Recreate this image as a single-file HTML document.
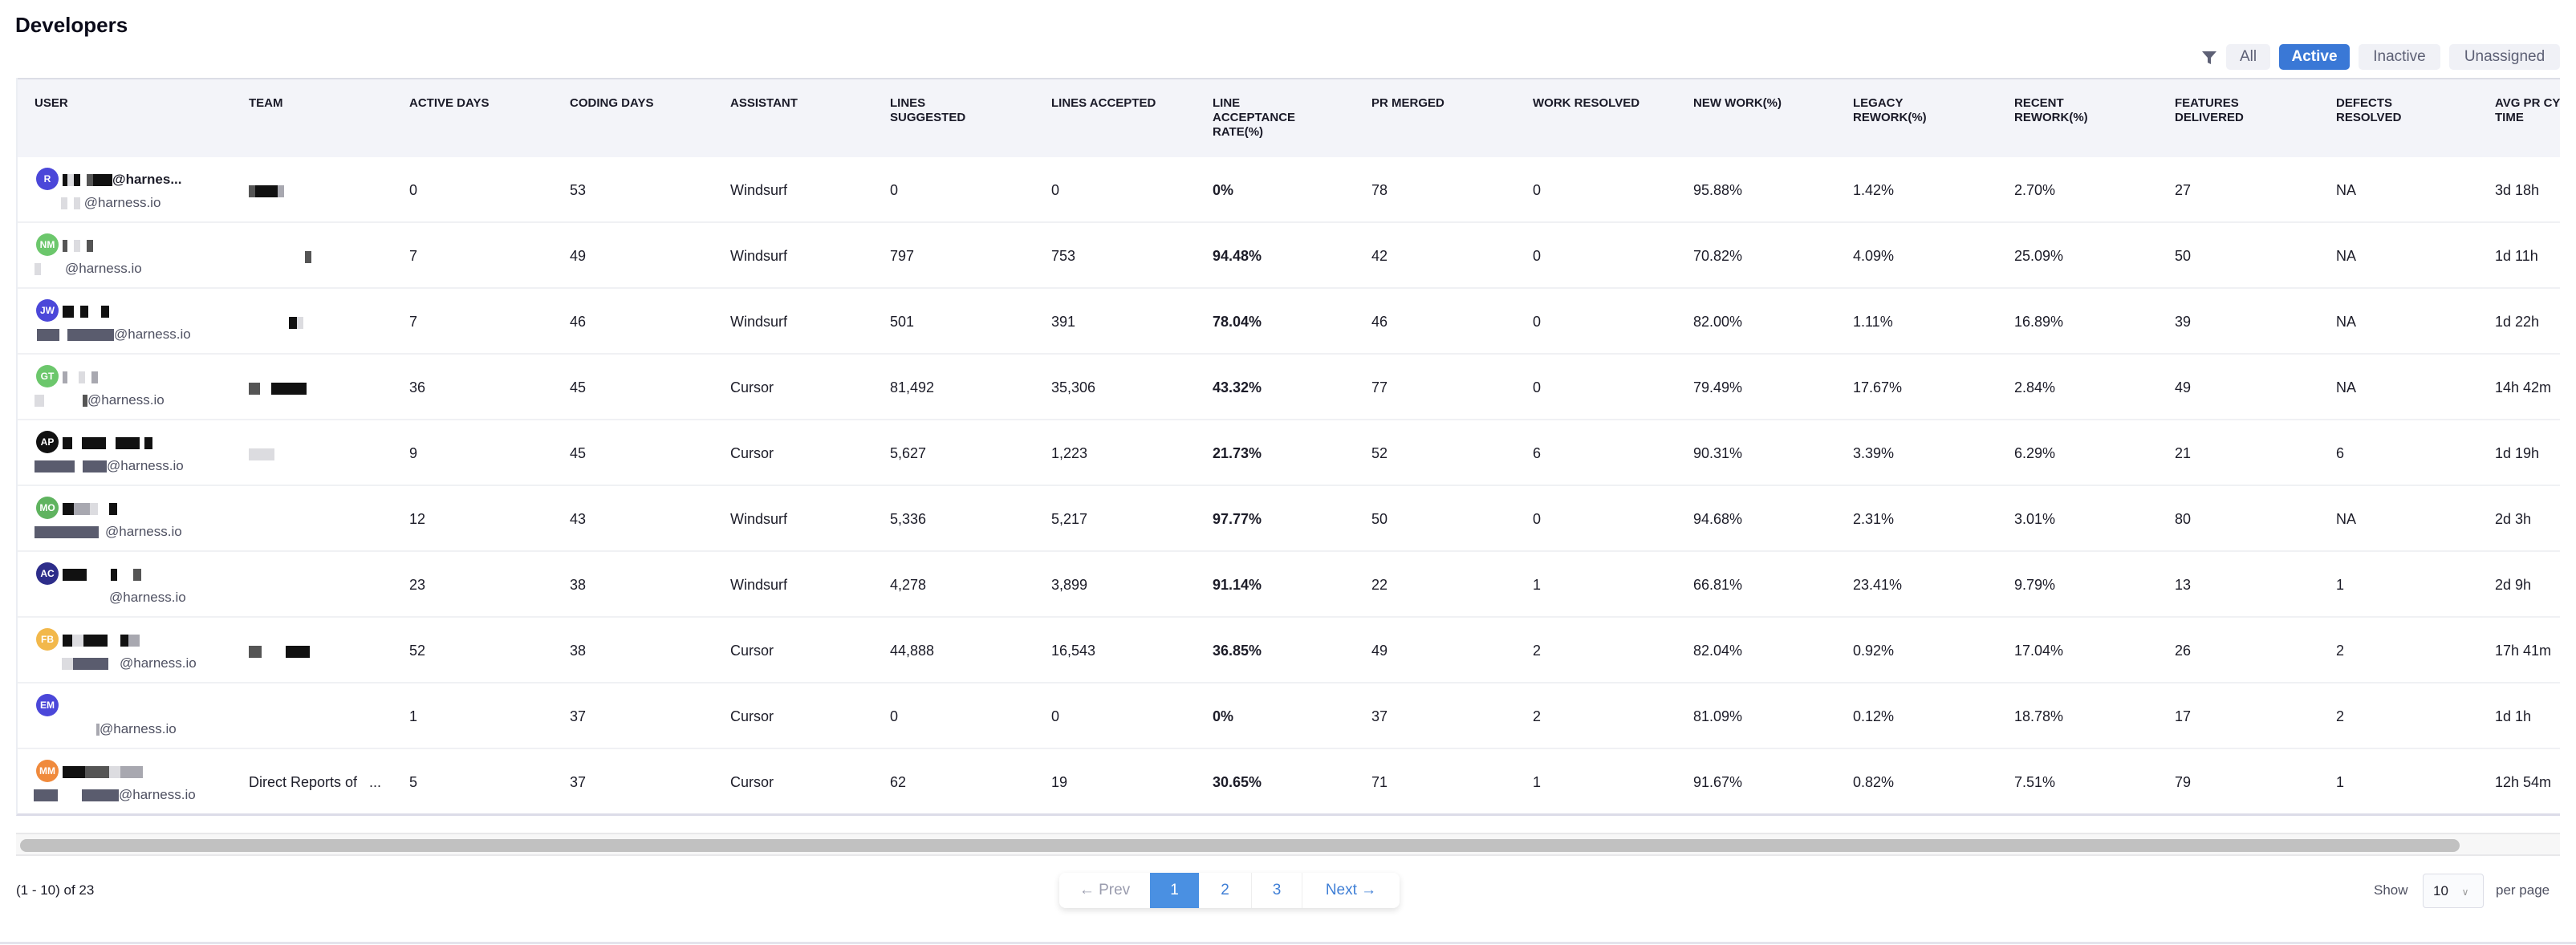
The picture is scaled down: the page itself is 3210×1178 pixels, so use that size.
<!DOCTYPE html>
<html><head><meta charset="utf-8"><style>
*{margin:0;padding:0;box-sizing:border-box}
body{width:3210px;height:1178px;background:#fff;font-family:"Liberation Sans",sans-serif;color:#1c1c28;position:relative;overflow:hidden}
.title{position:absolute;left:19px;top:16px;font-size:26px;font-weight:bold;color:#0b0b1a}
.fil{position:absolute;top:55px;height:32px;border-radius:5px;background:#f0f1f6;color:#5d6075;font-size:19px;line-height:32px;text-align:center}
.tbl{position:absolute;left:20px;top:97px;width:3170px;height:920px;overflow:hidden;border-left:2px solid #eceef3;border-bottom:3px solid #dcdce8}
.hd{position:absolute;left:0;top:0;width:100%;height:99px;background:#f3f4f9;border-top:2px solid #dcdde6}
.hd span{position:absolute;top:21px;font-size:15px;font-weight:bold;line-height:18px;color:#1a1a28;white-space:nowrap}
.r{position:absolute;left:0;width:100%;height:82px;border-bottom:2px solid #f0f1f4}
.r span.c{position:absolute;top:30px;font-size:18px;line-height:22px;white-space:nowrap}
.c1,.hd span:nth-child(2){left:288px}.c2,.hd span:nth-child(3){left:488px}.c3,.hd span:nth-child(4){left:688px}
.c4,.hd span:nth-child(5){left:888px}.c5,.hd span:nth-child(6){left:1087px}.c6,.hd span:nth-child(7){left:1288px}
.c7,.hd span:nth-child(8){left:1489px}.c8,.hd span:nth-child(9){left:1687px}.c9,.hd span:nth-child(10){left:1888px}
.c10,.hd span:nth-child(11){left:2088px}.c11,.hd span:nth-child(12){left:2287px}.c12,.hd span:nth-child(13){left:2488px}
.c13,.hd span:nth-child(14){left:2688px}.c14,.hd span:nth-child(15){left:2889px}.c15,.hd span:nth-child(16){left:3087px}
.hd span:nth-child(1){left:21px}
.c7{font-weight:bold}
.av{position:absolute;left:23px;top:13px;width:28px;height:28px;border-radius:50%;color:#fff;font-size:12px;font-weight:bold;text-align:center;line-height:28px}
.nm{position:absolute;left:56px;top:18px;height:16px;white-space:nowrap;font-size:17px;font-weight:bold}
.em{position:absolute;top:46px;white-space:nowrap;font-size:17px;color:#4f5162;line-height:22px}
i{display:inline-block;height:15px;vertical-align:middle}
.k{background:#111}.d{background:#555}.g{background:#a8a8b0}.l{background:#dcdce0}.s{background:#5a5c6e}
.pg{position:absolute;top:1088px;height:44px;font-size:19px;line-height:44px;text-align:center;color:#3f7fd6}
</style></head><body>
<div class="title">Developers</div>
<svg style="position:absolute;left:2743px;top:62px" width="20" height="20" viewBox="0 0 20 20"><path d="M1 2h18l-7 8v8l-4-2v-6z" fill="#5d6075"/></svg>
<div class="fil" style="left:2774px;width:55px">All</div>
<div class="fil" style="left:2840px;width:88px;background:#3a78d6;color:#fff;font-weight:bold">Active</div>
<div class="fil" style="left:2939px;width:102px">Inactive</div>
<div class="fil" style="left:3052px;width:138px">Unassigned</div>
<div class="tbl">
<div class="hd"><span>USER</span><span>TEAM</span><span>ACTIVE DAYS</span><span>CODING DAYS</span><span>ASSISTANT</span><span>LINES<br>SUGGESTED</span><span>LINES ACCEPTED</span><span>LINE<br>ACCEPTANCE<br>RATE(%)</span><span>PR MERGED</span><span>WORK RESOLVED</span><span>NEW WORK(%)</span><span>LEGACY<br>REWORK(%)</span><span>RECENT<br>REWORK(%)</span><span>FEATURES<br>DELIVERED</span><span>DEFECTS<br>RESOLVED</span><span>AVG PR CYCLE<br>TIME</span></div>

<div class="r" style="top:99px"><div class="av" style="background:#4b47d9">R</div><div class="nm"><i class="k" style="width:6px"></i><i class="l" style="width:8px"></i><i class="k" style="width:8px"></i><i style="width:8px"></i><i class="d" style="width:8px"></i><i class="k" style="width:24px"></i>@harnes...</div><div class="em" style="left:54px"><i class="l" style="width:8px"></i><i style="width:8px"></i><i class="l" style="width:8px"></i> @harness.io</div><span class="c c1"><i class="d" style="width:8px"></i><i class="k" style="width:28px"></i><i class="g" style="width:8px"></i></span><span class="c c2">0</span><span class="c c3">53</span><span class="c c4">Windsurf</span><span class="c c5">0</span><span class="c c6">0</span><span class="c c7">0%</span><span class="c c8">78</span><span class="c c9">0</span><span class="c c10">95.88%</span><span class="c c11">1.42%</span><span class="c c12">2.70%</span><span class="c c13">27</span><span class="c c14">NA</span><span class="c c15">3d 18h</span></div>

<div class="r" style="top:181px"><div class="av" style="background:#6cc76c">NM</div><div class="nm"><i class="d" style="width:6px"></i><i style="width:8px"></i><i class="l" style="width:8px"></i><i style="width:8px"></i><i class="d" style="width:8px"></i></div><div class="em" style="left:21px"><i class="l" style="width:8px"></i><i style="width:30px"></i>@harness.io</div><span class="c c1"><i style="width:70px"></i><i class="d" style="width:8px"></i></span><span class="c c2">7</span><span class="c c3">49</span><span class="c c4">Windsurf</span><span class="c c5">797</span><span class="c c6">753</span><span class="c c7">94.48%</span><span class="c c8">42</span><span class="c c9">0</span><span class="c c10">70.82%</span><span class="c c11">4.09%</span><span class="c c12">25.09%</span><span class="c c13">50</span><span class="c c14">NA</span><span class="c c15">1d 11h</span></div>

<div class="r" style="top:263px"><div class="av" style="background:#4b47d9">JW</div><div class="nm"><i class="k" style="width:14px"></i><i style="width:8px"></i><i class="k" style="width:10px"></i><i style="width:16px"></i><i class="k" style="width:10px"></i></div><div class="em" style="left:24px"><i class="s" style="width:28px"></i><i style="width:10px"></i><i class="s" style="width:58px"></i>@harness.io</div><span class="c c1"><i style="width:50px"></i><i class="k" style="width:10px"></i><i class="l" style="width:8px"></i></span><span class="c c2">7</span><span class="c c3">46</span><span class="c c4">Windsurf</span><span class="c c5">501</span><span class="c c6">391</span><span class="c c7">78.04%</span><span class="c c8">46</span><span class="c c9">0</span><span class="c c10">82.00%</span><span class="c c11">1.11%</span><span class="c c12">16.89%</span><span class="c c13">39</span><span class="c c14">NA</span><span class="c c15">1d 22h</span></div>

<div class="r" style="top:345px"><div class="av" style="background:#6cc76c">GT</div><div class="nm"><i class="g" style="width:6px"></i><i style="width:14px"></i><i class="l" style="width:8px"></i><i style="width:8px"></i><i class="g" style="width:8px"></i></div><div class="em" style="left:21px"><i class="l" style="width:12px"></i><i style="width:48px"></i><i class="d" style="width:6px"></i>@harness.io</div><span class="c c1"><i class="d" style="width:14px"></i><i style="width:14px"></i><i class="k" style="width:44px"></i></span><span class="c c2">36</span><span class="c c3">45</span><span class="c c4">Cursor</span><span class="c c5">81,492</span><span class="c c6">35,306</span><span class="c c7">43.32%</span><span class="c c8">77</span><span class="c c9">0</span><span class="c c10">79.49%</span><span class="c c11">17.67%</span><span class="c c12">2.84%</span><span class="c c13">49</span><span class="c c14">NA</span><span class="c c15">14h 42m</span></div>

<div class="r" style="top:427px"><div class="av" style="background:#111">AP</div><div class="nm"><i class="k" style="width:12px"></i><i style="width:12px"></i><i class="k" style="width:30px"></i><i style="width:12px"></i><i class="k" style="width:30px"></i><i style="width:6px"></i><i class="k" style="width:10px"></i></div><div class="em" style="left:21px"><i class="s" style="width:50px"></i><i style="width:10px"></i><i class="s" style="width:30px"></i>@harness.io</div><span class="c c1"><i class="l" style="width:32px"></i></span><span class="c c2">9</span><span class="c c3">45</span><span class="c c4">Cursor</span><span class="c c5">5,627</span><span class="c c6">1,223</span><span class="c c7">21.73%</span><span class="c c8">52</span><span class="c c9">6</span><span class="c c10">90.31%</span><span class="c c11">3.39%</span><span class="c c12">6.29%</span><span class="c c13">21</span><span class="c c14">6</span><span class="c c15">1d 19h</span></div>

<div class="r" style="top:509px"><div class="av" style="background:#5fb35f">MO</div><div class="nm"><i class="k" style="width:14px"></i><i class="g" style="width:20px"></i><i class="l" style="width:10px"></i><i style="width:14px"></i><i class="k" style="width:10px"></i></div><div class="em" style="left:21px"><i class="s" style="width:80px"></i><i style="width:8px"></i>@harness.io</div><span class="c c1"></span><span class="c c2">12</span><span class="c c3">43</span><span class="c c4">Windsurf</span><span class="c c5">5,336</span><span class="c c6">5,217</span><span class="c c7">97.77%</span><span class="c c8">50</span><span class="c c9">0</span><span class="c c10">94.68%</span><span class="c c11">2.31%</span><span class="c c12">3.01%</span><span class="c c13">80</span><span class="c c14">NA</span><span class="c c15">2d 3h</span></div>

<div class="r" style="top:591px"><div class="av" style="background:#2d2d8a">AC</div><div class="nm"><i class="k" style="width:30px"></i><i style="width:30px"></i><i class="k" style="width:8px"></i><i style="width:20px"></i><i class="d" style="width:10px"></i></div><div class="em" style="left:114px">@harness.io</div><span class="c c1"></span><span class="c c2">23</span><span class="c c3">38</span><span class="c c4">Windsurf</span><span class="c c5">4,278</span><span class="c c6">3,899</span><span class="c c7">91.14%</span><span class="c c8">22</span><span class="c c9">1</span><span class="c c10">66.81%</span><span class="c c11">23.41%</span><span class="c c12">9.79%</span><span class="c c13">13</span><span class="c c14">1</span><span class="c c15">2d 9h</span></div>

<div class="r" style="top:673px"><div class="av" style="background:#f2b84b">FB</div><div class="nm"><i class="k" style="width:12px"></i><i class="l" style="width:14px"></i><i class="k" style="width:30px"></i><i style="width:16px"></i><i class="k" style="width:10px"></i><i class="g" style="width:14px"></i></div><div class="em" style="left:55px"><i class="l" style="width:14px"></i><i class="s" style="width:44px"></i><i style="width:14px"></i>@harness.io</div><span class="c c1"><i class="d" style="width:16px"></i><i style="width:30px"></i><i class="k" style="width:30px"></i></span><span class="c c2">52</span><span class="c c3">38</span><span class="c c4">Cursor</span><span class="c c5">44,888</span><span class="c c6">16,543</span><span class="c c7">36.85%</span><span class="c c8">49</span><span class="c c9">2</span><span class="c c10">82.04%</span><span class="c c11">0.92%</span><span class="c c12">17.04%</span><span class="c c13">26</span><span class="c c14">2</span><span class="c c15">17h 41m</span></div>

<div class="r" style="top:755px"><div class="av" style="background:#4b47d9">EM</div><div class="em" style="left:98px"><i class="g" style="width:4px"></i>@harness.io</div><span class="c c1"></span><span class="c c2">1</span><span class="c c3">37</span><span class="c c4">Cursor</span><span class="c c5">0</span><span class="c c6">0</span><span class="c c7">0%</span><span class="c c8">37</span><span class="c c9">2</span><span class="c c10">81.09%</span><span class="c c11">0.12%</span><span class="c c12">18.78%</span><span class="c c13">17</span><span class="c c14">2</span><span class="c c15">1d 1h</span></div>

<div class="r" style="top:837px;border-bottom:none"><div class="av" style="background:#f08a3c">MM</div><div class="nm"><i class="k" style="width:28px"></i><i class="d" style="width:30px"></i><i class="l" style="width:14px"></i><i class="g" style="width:28px"></i></div><div class="em" style="left:20px"><i class="s" style="width:30px"></i><i style="width:30px"></i><i class="s" style="width:46px"></i>@harness.io</div><span class="c c1">Direct Reports of &nbsp;&nbsp;...</span><span class="c c2">5</span><span class="c c3">37</span><span class="c c4">Cursor</span><span class="c c5">62</span><span class="c c6">19</span><span class="c c7">30.65%</span><span class="c c8">71</span><span class="c c9">1</span><span class="c c10">91.67%</span><span class="c c11">0.82%</span><span class="c c12">7.51%</span><span class="c c13">79</span><span class="c c14">1</span><span class="c c15">12h 54m</span></div>
</div>

<div style="position:absolute;left:20px;top:1038px;width:3170px;height:29px;background:#f7f7f7;border-top:2px solid #e8e8ea;border-bottom:2px solid #e8e8ea"></div>
<div style="position:absolute;left:25px;top:1046px;width:3040px;height:16px;background:#c1c1c1;border-radius:8px"></div>

<div style="position:absolute;left:20px;top:1100px;font-size:17px;color:#1c1c28">(1 - 10) of 23</div>
<div style="position:absolute;left:1320px;top:1088px;width:424px;height:44px;border-radius:8px;box-shadow:0 3px 8px rgba(0,0,0,0.12);background:#fff"></div>
<div class="pg" style="left:1320px;width:113px;color:#9a9cae">← Prev</div>
<div class="pg" style="left:1433px;width:61px;background:#4a90e2;color:#fff">1</div>
<div class="pg" style="left:1494px;width:66px;border-right:1px solid #eee">2</div>
<div class="pg" style="left:1560px;width:63px;border-right:1px solid #eee">3</div>
<div class="pg" style="left:1623px;width:121px">Next →</div>
<div style="position:absolute;left:2958px;top:1100px;font-size:17px;color:#4f5162">Show</div>
<div style="position:absolute;left:3019px;top:1089px;width:76px;height:43px;border:1px solid #dcdde6;border-radius:4px;background:#fafbfd;font-size:17px;line-height:41px;padding-left:12px">10 <span style="color:#999;font-size:12px;margin-left:12px">∨</span></div>
<div style="position:absolute;left:3110px;top:1100px;font-size:17px;color:#4f5162">per page</div>
<div style="position:absolute;left:0;top:1174px;width:3210px;height:3px;background:#e4e4ec"></div>
</body></html>
